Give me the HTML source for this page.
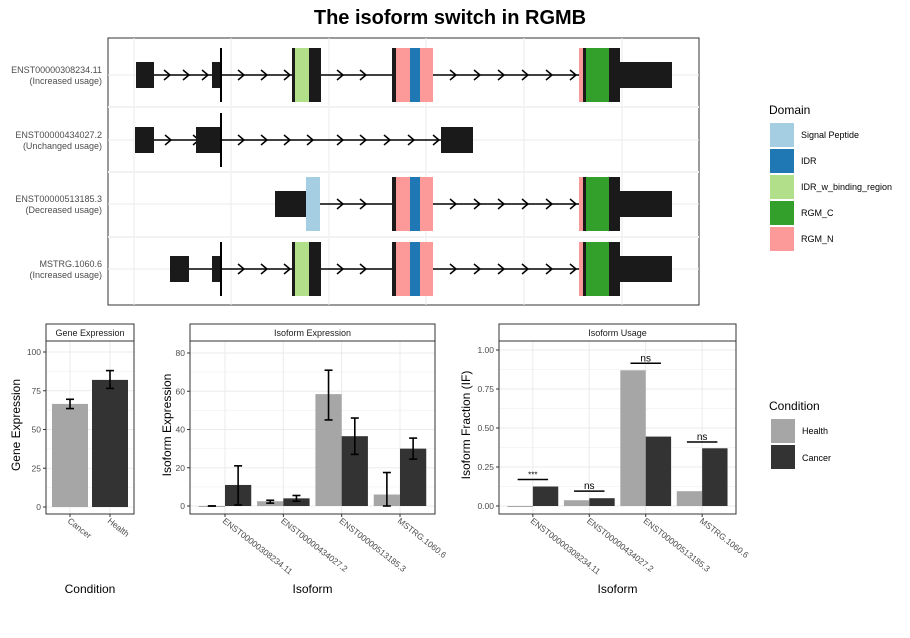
<!DOCTYPE html>
<html><head><meta charset="utf-8"><style>
body{margin:0;background:#fff}
svg{display:block;font-family:"Liberation Sans",sans-serif}
</style></head><body>
<svg id="c" width="910" height="638" viewBox="0 0 910 638">
<text x="450" y="24" text-anchor="middle" font-size="20" font-weight="bold" fill="#000">The isoform switch in RGMB</text>
<g id="topPanel"></g>
<g id="domLeg"></g>
<g id="gene"></g>
<g id="iso"></g>
<g id="use"></g>
<g id="condLeg"></g>
</svg>
<script>
const NS="http://www.w3.org/2000/svg";
function el(parent,tag,attrs,text){const e=document.createElementNS(NS,tag);for(const k in attrs)e.setAttribute(k,attrs[k]);if(text!==undefined)e.textContent=text;parent.appendChild(e);return e;}

// ---------- data ----------
const transcripts=["ENST00000308234.11","ENST00000434027.2","ENST00000513185.3","MSTRG.1060.6"];
const usageNotes=["(Increased usage)","(Unchanged usage)","(Decreased usage)","(Increased usage)"];
const domainNames=["Signal Peptide","IDR","IDR_w_binding_region","RGM_C","RGM_N"];
const domainColors=["#a6cee3","#1f78b4","#b2df8a","#33a02c","#fb9a99"];
const geneConds=["Cancer","Health"];
const geneValues=[66.5,82];
const geneErrLo=[63.5,76.5];
const geneErrHi=[69.5,88];
const geneTicks=[0,25,50,75,100];
const isoHealth=[-0.4,2.5,58.5,6];
const isoCancer=[11,4,36.5,30];
const isoHealthLo=[0,1.5,45,0];
const isoHealthHi=[0,3,71,17.5];
const isoCancerLo=[0.5,2.5,27,24.5];
const isoCancerHi=[21,5.5,46,35.5];
const isoTicks=[0,20,40,60,80];
const useHealth=[-0.004,0.037,0.87,0.095];
const useCancer=[0.125,0.05,0.445,0.37];
const sigY=[0.17,0.095,0.915,0.41];
const sigLabels=["***","ns","ns","ns"];
const useTicks=[0,0.25,0.5,0.75,1.0];
const useTickLabels=["0.00","0.25","0.50","0.75","1.00"];

const LIGHT="#a6a6a6",DARK="#333333",GRID="#ebebeb";

// ---------- top transcript panel ----------
const topG=document.getElementById('topPanel');
const frameRect=el(topG,'rect',{x:108,y:38,width:591,height:267,fill:'#fff',stroke:'#333','stroke-width':1});


[134,231,329,426,524,622].forEach(x=>el(topG,'line',{x1:x,x2:x,y1:38,y2:305,stroke:GRID}));
const rowY=[75,140,204,269];
rowY.forEach(yy=>el(topG,'line',{x1:108,x2:699,y1:yy,y2:yy,stroke:GRID}));
[107,172,237].forEach(yy=>el(topG,'line',{x1:108,x2:699,y1:yy,y2:yy,stroke:'#f2f2f2','stroke-width':2}));
transcripts.forEach((t,i)=>{
  const l=el(topG,'text',{x:102,y:rowY[i]-2,'text-anchor':'end','font-size':9,fill:'#4d4d4d'},t);
  
  
  el(topG,'text',{x:102,y:rowY[i]+9,'text-anchor':'end','font-size':9,fill:'#4d4d4d'},usageNotes[i]);
});
function intron(y,x1,x2,arrows){el(topG,'line',{x1:x1,x2:x2,y1:y,y2:y,stroke:'#000','stroke-width':1.5});
  arrows.forEach(a=>el(topG,'path',{d:`M${a-4},${y-5}L${a+2},${y}L${a-4},${y+5}`,fill:'none',stroke:'#000','stroke-width':1.5}));}
function blk(y,x1,x2,tall,fill){const h=tall?27:13;el(topG,'rect',{x:x1,y:y-h,width:x2-x1,height:2*h,fill:fill||'#1a1a1a'});}
function vline(y,x){el(topG,'line',{x1:x,x2:x,y1:y-27,y2:y+27,stroke:'#000','stroke-width':2});}
function cdsA(y){blk(y,292,321,true);blk(y,295,309,true,domainColors[2]);}
function cdsB(y){blk(y,392,433,true);blk(y,396,433,true,domainColors[4]);blk(y,410,420,true,domainColors[1]);}
function cdsC(y){blk(y,579,620,true);blk(y,579,583,true,domainColors[4]);blk(y,586,609,true,domainColors[3]);blk(y,620,672,false);}
let ry=rowY[0];
intron(ry,154,579,[168,187,206,242,265,288,341,364,454,478,502,526,550,574]);
blk(ry,136,154,false);blk(ry,212,221,false);vline(ry,221);cdsA(ry);cdsB(ry);cdsC(ry);
ry=rowY[1];
intron(ry,154,441,[169,197,242,265,288,311,341,364,388,412,437]);
blk(ry,135,154,false);blk(ry,196,221,false);vline(ry,221);blk(ry,441,473,false);
ry=rowY[2];
intron(ry,320,579,[341,364,454,478,502,526,550,574]);
blk(ry,275,306,false);blk(ry,306,320,true,domainColors[0]);cdsB(ry);cdsC(ry);
ry=rowY[3];
intron(ry,189,579,[242,265,288,341,364,454,478,502,526,550,574]);
blk(ry,170,189,false);blk(ry,212,221,false);vline(ry,221);cdsA(ry);cdsB(ry);cdsC(ry);

// ---------- domain legend ----------
const dl=document.getElementById('domLeg');
el(dl,'text',{x:769,y:114,'font-size':12,fill:'#000'},'Domain');
domainNames.forEach((n,i)=>{
  const s=el(dl,'rect',{x:770,y:123+i*26,width:24,height:24,fill:domainColors[i]});
  
  
  el(dl,'text',{x:801,y:138+i*26,'font-size':9,fill:'#000'},n);
});

// ---------- generic bar panel ----------
function panel(g,o){
  const {x0,x1,title,ticks,tickLabels}=o;
  const ys=v=>o.yAt0-(v)*o.pxPer;
  el(g,'rect',{x:x0,y:324,width:x1-x0,height:17,fill:'#fff',stroke:'#333'});
  el(g,'text',{x:(x0+x1)/2,y:336,'text-anchor':'middle','font-size':9,fill:'#1a1a1a'},title);
  for(let i=0;i<ticks.length;i++){
    el(g,'line',{x1:x0,x2:x1,y1:ys(ticks[i]),y2:ys(ticks[i]),stroke:GRID});
    if(i<ticks.length-1){const m=(ticks[i]+ticks[i+1])/2;el(g,'line',{x1:x0,x2:x1,y1:ys(m),y2:ys(m),stroke:'#f5f5f5'});}
    el(g,'line',{x1:x0-3,x2:x0,y1:ys(ticks[i]),y2:ys(ticks[i]),stroke:'#333'});
    const t=el(g,'text',{x:x0-5,y:ys(ticks[i])+3,'text-anchor':'end','font-size':8.5,fill:'#4d4d4d'},tickLabels?tickLabels[i]:ticks[i]);
    
    
  }
  return ys;
}
function xcat(g,cx){el(g,'line',{x1:cx,x2:cx,y1:341,y2:514,stroke:GRID});}
function err(g,cx,ys,lo,hi){
  el(g,'line',{x1:cx,x2:cx,y1:ys(lo),y2:ys(hi),stroke:'#000','stroke-width':1.6});
  el(g,'line',{x1:cx-4,x2:cx+4,y1:ys(lo),y2:ys(lo),stroke:'#000','stroke-width':1.6});
  el(g,'line',{x1:cx-4,x2:cx+4,y1:ys(hi),y2:ys(hi),stroke:'#000','stroke-width':1.6});
}
function xlabels(g,centers,labels){
  centers.forEach((cx,i)=>{
    el(g,'line',{x1:cx,x2:cx,y1:514,y2:517,stroke:'#333'});
    const t=el(g,'text',{x:cx-3,y:522,'font-size':8.5,fill:'#4d4d4d',transform:`rotate(38 ${cx-3} 522)`},labels[i]);
    
    
  });
}
function frame(g,x0,x1){el(g,'rect',{x:x0,y:341,width:x1-x0,height:173,fill:'none',stroke:'#333'});}

// gene expression
(function(){
  const g=document.getElementById('gene');
  const x0=46,x1=134;
  const ys=panel(g,{x0,x1,title:'Gene Expression',ticks:geneTicks,yAt0:507,pxPer:1.55});
  const step=(x1-x0)/(geneConds.length+0.2);
  const cxs=geneConds.map((c,i)=>x0+step*(0.6+i));
  cxs.forEach(cx=>xcat(g,cx));
  geneConds.forEach((c,i)=>{
    const cx=cxs[i];const w=step*0.9;
    const b=el(g,'rect',{x:cx-w/2,y:Math.min(ys(geneValues[i]),ys(0)),width:w,height:Math.abs(ys(0)-ys(geneValues[i])),fill:i===0?LIGHT:DARK});
    
    
    err(g,cx,ys,geneErrLo[i],geneErrHi[i]);
  });
  frame(g,x0,x1);
  xlabels(g,cxs,geneConds);
  el(g,'text',{x:90,y:593,'text-anchor':'middle','font-size':12,fill:'#000'},'Condition');
  el(g,'text',{x:20,y:425,'text-anchor':'middle','font-size':12,fill:'#000',transform:'rotate(-90 20 425)'},'Gene Expression');
})();

function grouped(id,opts){
  const g=document.getElementById(id);
  const {x0,x1,health,cancer}=opts;
  const ys=panel(g,opts);
  const step=(x1-x0)/(transcripts.length+0.2);
  const cxs=transcripts.map((t,i)=>x0+step*(0.6+i));
  cxs.forEach(cx=>xcat(g,cx));
  const bw=step*0.45;
  cxs.forEach((cx,i)=>{
    const v1=health[i],v2=cancer[i];
    const b1=el(g,'rect',{x:cx-bw,y:Math.min(ys(v1),ys(0)),width:bw,height:Math.max(1,Math.abs(ys(0)-ys(v1))),fill:LIGHT});
    
    
    const b2=el(g,'rect',{x:cx,y:Math.min(ys(v2),ys(0)),width:bw,height:Math.max(1,Math.abs(ys(0)-ys(v2))),fill:DARK});
    
    
    if(opts.hLo){err(g,cx-bw/2,ys,opts.hLo[i],opts.hHi[i]);err(g,cx+bw/2,ys,opts.cLo[i],opts.cHi[i]);}
    if(opts.sig){
      const sy=ys(opts.sig[i]);
      el(g,'line',{x1:cx-bw*0.6,x2:cx+bw*0.6,y1:sy,y2:sy,stroke:'#000','stroke-width':1.5});
      const t=el(g,'text',{x:cx,y:sy-2,'text-anchor':'middle','font-size':opts.sigLab[i]==='***'?8:10,fill:'#000'},opts.sigLab[i]);
      
      
    }
  });
  frame(g,x0,x1);
  xlabels(g,cxs,transcripts);
  el(g,'text',{x:(x0+x1)/2,y:593,'text-anchor':'middle','font-size':12,fill:'#000'},'Isoform');
  return g;
}
const gi=grouped('iso',{x0:190,x1:435,title:'Isoform Expression',ticks:isoTicks,yAt0:506,pxPer:1.9125,health:isoHealth,cancer:isoCancer,hLo:isoHealthLo,hHi:isoHealthHi,cLo:isoCancerLo,cHi:isoCancerHi});
el(gi,'text',{x:171,y:425,'text-anchor':'middle','font-size':12,fill:'#000',transform:'rotate(-90 171 425)'},'Isoform Expression');
const gu=grouped('use',{x0:499,x1:736,title:'Isoform Usage',ticks:useTicks,tickLabels:useTickLabels,yAt0:506,pxPer:156,health:useHealth,cancer:useCancer,sig:sigY,sigLab:sigLabels});
el(gu,'text',{x:470,y:425,'text-anchor':'middle','font-size':12,fill:'#000',transform:'rotate(-90 470 425)'},'Isoform Fraction (IF)');

const cl=document.getElementById('condLeg');
el(cl,'text',{x:769,y:410,'font-size':12,fill:'#000'},'Condition');
["Health","Cancer"].forEach((n,i)=>{
  const s=el(cl,'rect',{x:771,y:419+i*26,width:24,height:24,fill:i===0?LIGHT:DARK});
  
  
  el(cl,'text',{x:802,y:434+i*27,'font-size':9,fill:'#000'},n);
});
</script>
</body></html>
